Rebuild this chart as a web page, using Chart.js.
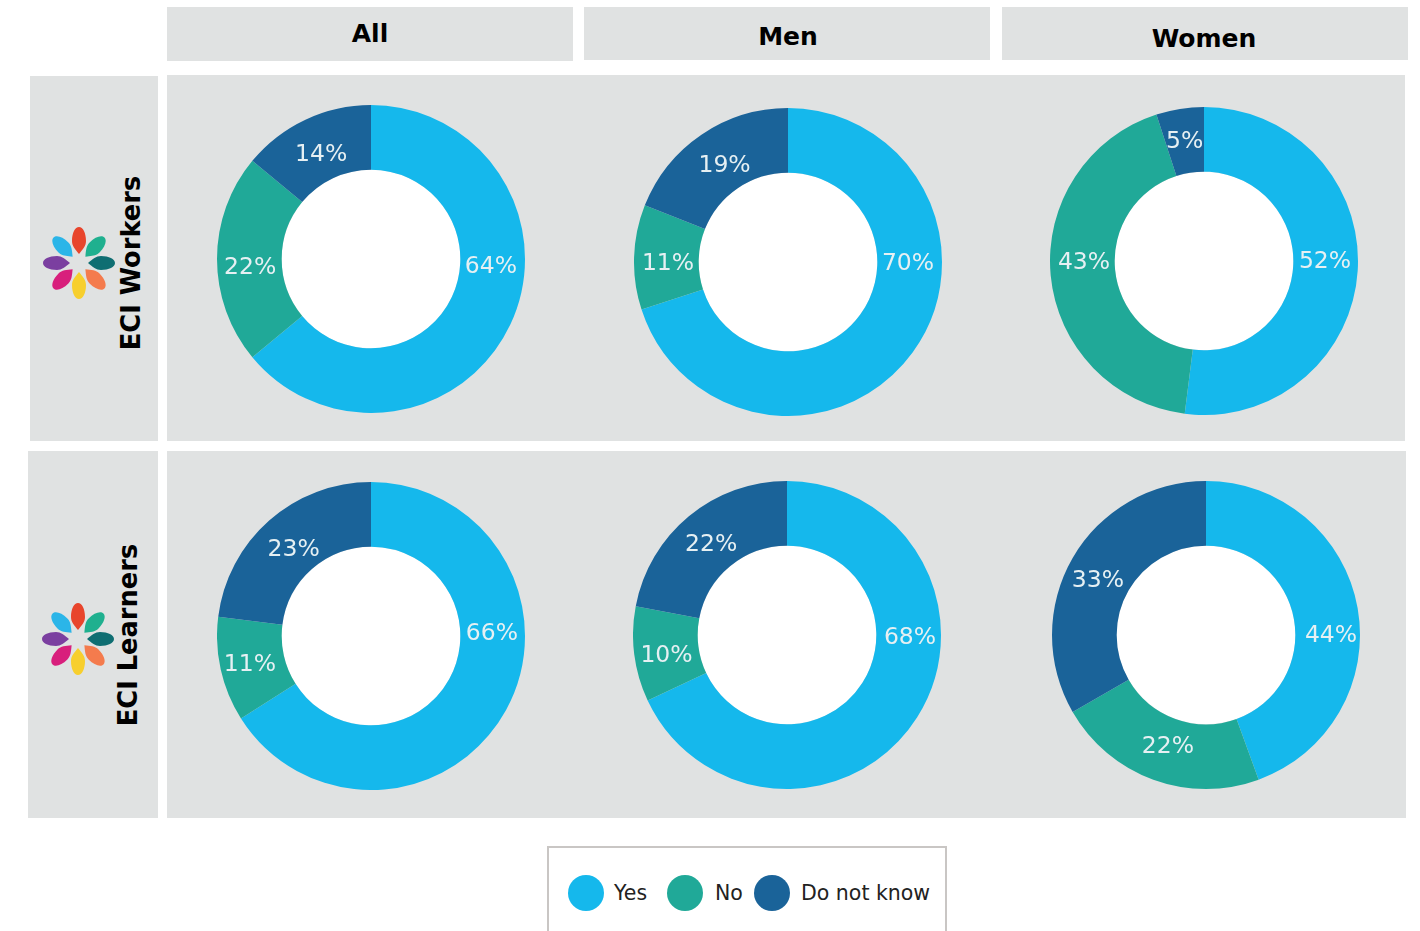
<!DOCTYPE html>
<html>
<head>
<meta charset="utf-8">
<title>ECI Workers and Learners</title>
<script src="https://cdn.jsdelivr.net/npm/chart.js@4"></script>
<style>
    html, body { margin: 0; padding: 0; background: #fff; overflow: hidden; }
    body { width: 1420px; height: 931px; position: relative; font-family: "DejaVu Sans", sans-serif; color: #111; }
    .panel { position: absolute; background: #e0e2e2; }
    .head { position: absolute; font-weight: bold; font-size: 25px; color: #000; transform: translate(-50%, -50%); white-space: nowrap; }
    .side { position: absolute; font-weight: bold; font-size: 25.7px; color: #000; transform: translate(-50%, -50%) rotate(-90deg); white-space: nowrap; }
    canvas { position: absolute; }
    svg { position: absolute; }
    .legend-box { position: absolute; left: 547px; top: 846px; width: 400px; height: 100px; border: 2px solid #c9c6c4; box-sizing: border-box; background: #fff; }
    .dot { position: absolute; width: 36px; height: 36px; border-radius: 50%; top: 875px; }
    .leg { position: absolute; top: 893px; font-size: 20.5px; transform: translateY(-50%); white-space: nowrap; color: #222; }
</style>
</head>
<body>
<script>
// --- DATOS ---
const categorias = ["Yes", "No", "Do not know"];
const colores = ["#15b8ec", "#20a998", "#1a6399"];

const workersAll = [64, 22, 14];
const workersMen = [70, 11, 19];
const workersWomen = [52, 43, 5];
const learnersAll = [66, 11, 23];
const learnersMen = [68, 10, 22];
const learnersWomen = [44, 22, 33];

const columnas = ["All", "Men", "Women"];
const filas = ["ECI Workers", "ECI Learners"];

// --- LAYOUT ---
const RADIO = 154;
// etiqueta: fraccion del arco donde va el texto, alcance: distancia al centro
const donas = [
    { valores: workersAll, cx: 371, cy: 259, etiqueta: [0.403, 0.46, 0.5], alcance: [120, 121, 117] },
    { valores: workersMen, cx: 788, cy: 262, etiqueta: [0.357, 0.45, 0.52], alcance: [120, 120, 117] },
    { valores: workersWomen, cx: 1204, cy: 261, etiqueta: [0.478, 0.534, 0.5], alcance: [121, 120, 123] },
    { valores: learnersAll, cx: 371, cy: 636, etiqueta: [0.37, 0.5, 0.5], alcance: [121, 124, 117] },
    { valores: learnersMen, cx: 787, cy: 635, etiqueta: [0.37, 0.45, 0.5], alcance: [123, 122, 119] },
    { valores: learnersWomen, cx: 1206, cy: 635, etiqueta: [0.56, 0.49, 0.48], alcance: [125, 116, 122] }
];

const paneles = [
    [167, 7, 406, 54], [584, 7, 406, 53], [1002, 7, 406, 53],
    [30, 76, 128, 365], [28, 451, 130, 367],
    [167, 75, 1238, 366], [167, 451, 1239, 367]
];
const cabeceras = [[370, 33], [788, 36], [1204, 38]];
const laterales = [[131, 263], [128, 635]];
const logos = [[79, 263], [78, 639]];
const petalos = ["#e8452c", "#1fb08f", "#0f6e72", "#f47b4d", "#f7cf2e", "#d81f7c", "#7b3fa0", "#2bb5e8"];

function agregar(tag, clase, estilos, texto) {
    const el = document.createElement(tag);
    if (clase) el.className = clase;
    Object.assign(el.style, estilos);
    if (texto) el.textContent = texto;
    document.body.appendChild(el);
    return el;
}

paneles.forEach(p => {
    agregar("div", "panel", { left: p[0] + "px", top: p[1] + "px", width: p[2] + "px", height: p[3] + "px" });
});
columnas.forEach((c, i) => {
    agregar("div", "head", { left: cabeceras[i][0] + "px", top: cabeceras[i][1] + "px" }, c);
});
filas.forEach((f, i) => {
    agregar("div", "side", { left: laterales[i][0] + "px", top: laterales[i][1] + "px" }, f);
});

// logo: ocho pétalos alrededor del centro
logos.forEach(l => {
    const formas = petalos.map((c, i) =>
        `<path d="M0,-9 C-4,-14 -7,-17 -7,-22 C-7,-30 -4,-36 0,-36 C4,-36 7,-30 7,-22 C7,-17 4,-14 0,-9 Z" fill="${c}" transform="rotate(${i * 45})"/>`
    ).join("");
    const div = agregar("div", "", { position: "absolute", left: (l[0] - 40) + "px", top: (l[1] - 40) + "px", width: "80px", height: "80px" });
    div.innerHTML = `<svg width="80" height="80" viewBox="-40 -40 80 80">${formas}</svg>`;
});

// --- PLUGIN: hueco blanco y porcentajes sobre cada arco ---
const etiquetasDona = {
    id: "etiquetasDona",
    beforeDatasetsDraw(chart) {
        const arco = chart.getDatasetMeta(0).data[0];
        const ctx = chart.ctx;
        ctx.save();
        ctx.fillStyle = "#fff";
        ctx.beginPath();
        ctx.arc(arco.x, arco.y, arco.innerRadius, 0, Math.PI * 2);
        ctx.fill();
        ctx.restore();
    },
    afterDatasetsDraw(chart, args, opts) {
        const ctx = chart.ctx;
        ctx.save();
        ctx.font = "23.5px 'DejaVu Sans'";
        ctx.fillStyle = "#e6f0f3";
        ctx.textAlign = "center";
        ctx.textBaseline = "middle";
        chart.getDatasetMeta(0).data.forEach((arco, i) => {
            const ang = arco.startAngle + (arco.endAngle - arco.startAngle) * opts.fracciones[i];
            const r = opts.alcance[i];
            const valor = chart.data.datasets[0].data[i];
            ctx.fillText(valor + "%", arco.x + Math.cos(ang) * r, arco.y + Math.sin(ang) * r + 2);
        });
        ctx.restore();
    }
};

donas.forEach(d => {
    const lienzo = agregar("canvas", "", { left: (d.cx - RADIO) + "px", top: (d.cy - RADIO) + "px" });
    lienzo.width = RADIO * 2;
    lienzo.height = RADIO * 2;
    new Chart(lienzo.getContext("2d"), {
        type: "doughnut",
        data: {
            labels: categorias,
            datasets: [{ data: d.valores, backgroundColor: colores, borderWidth: 0 }]
        },
        options: {
            responsive: false,
            animation: false,
            cutout: "58%",
            plugins: {
                legend: { display: false },
                tooltip: { enabled: false },
                etiquetasDona: { fracciones: d.etiqueta, alcance: d.alcance }
            }
        },
        plugins: [etiquetasDona]
    });
});

// --- LEYENDA ---
agregar("div", "legend-box", {});
const leyendaDots = [568, 667, 754];
const leyendaTextos = [614, 715, 801];
categorias.forEach((c, i) => {
    agregar("div", "dot", { left: leyendaDots[i] + "px", background: colores[i] });
    agregar("div", "leg", { left: leyendaTextos[i] + "px" }, c);
});
</script>
</body>
</html>
